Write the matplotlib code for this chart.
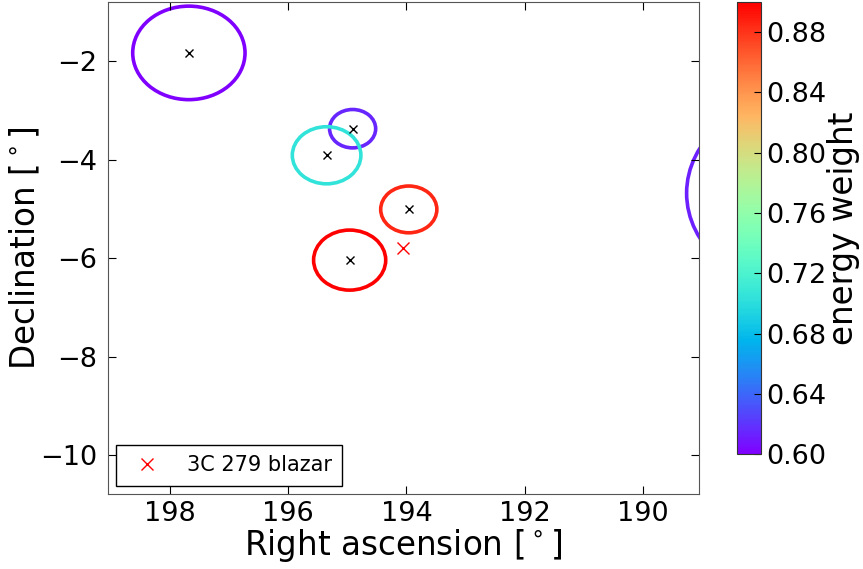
import numpy as np
import matplotlib
matplotlib.use("Agg")
from matplotlib import pyplot as plt
from matplotlib.patches import Circle
from matplotlib.colors import Normalize
from matplotlib.cm import ScalarMappable

# neutrino events: RA, Dec, error radius (deg), energy weight
event_ra = [197.68, 194.91, 195.35, 193.96, 194.96, 187.29]
event_dec = [-1.83, -3.37, -3.91, -5.01, -6.04, -4.68]
event_radius = [0.95, 0.39, 0.58, 0.475, 0.61, 1.97]
event_weight = [0.600, 0.615, 0.705, 0.885, 0.900, 0.612]

blazar_ra = 194.05
blazar_dec = -5.79
half_width = 5.0

weight_min, weight_max = 0.60, 0.90
cbar_ticks = [0.60, 0.64, 0.68, 0.72, 0.76, 0.80, 0.84, 0.88]

plt.rcParams['font.family'] = 'DejaVu Sans'

fig = plt.figure(figsize=(8.63, 5.69), dpi=100)
ax = fig.add_axes([0.125, 0.132, 0.685, 0.865])
cax = fig.add_axes([0.8535, 0.2015, 0.0285, 0.7955])

cmap = plt.get_cmap('rainbow')
norm = Normalize(vmin=weight_min, vmax=weight_max)

for ra, dec, r, w in zip(event_ra, event_dec, event_radius, event_weight):
    ax.add_patch(Circle((ra, dec), r, fill=False, edgecolor=cmap(norm(w)), lw=2.6))
ax.plot(event_ra, event_dec, 'x', color='black', ms=6, mew=1.0, ls='none')
ax.plot([blazar_ra], [blazar_dec], 'x', color='red', ms=9, mew=1.0, ls='none',
        label='3C 279 blazar')

ax.set_xlim(blazar_ra + half_width, blazar_ra - half_width)
ax.set_ylim(blazar_dec - half_width, blazar_dec + half_width)
ax.set_xticks([198, 196, 194, 192, 190])
ax.set_yticks([-10, -8, -6, -4, -2])

ax.set_xlabel(r'Right ascension [$^\circ$]', fontsize=23.5, labelpad=0)
ax.set_ylabel(r'Declination [$^\circ$]', fontsize=23.5, labelpad=-2)
ax.tick_params(direction='in', top=True, right=True, labelsize=19.5, length=6)
ax.tick_params(axis='x', pad=5)
ax.tick_params(axis='y', pad=8)
for s in ax.spines.values():
    s.set_color('#555555')

leg = ax.legend(loc='lower left', numpoints=1, fontsize=15, fancybox=False,
                framealpha=1, borderpad=0.5, handletextpad=0.9, borderaxespad=0.4)
leg.get_frame().set_edgecolor('black')

sm = ScalarMappable(norm=norm, cmap=cmap)
cb = fig.colorbar(sm, cax=cax, ticks=cbar_ticks)
cb.ax.set_yticklabels(['%.2f' % t for t in cbar_ticks])
cb.ax.tick_params(direction='in', labelsize=19.5, length=5, pad=4)
cb.set_label('energy weight', fontsize=23.5, labelpad=0)
cb.outline.set_edgecolor('#333333')

fig.savefig('out.png', dpi=100)
